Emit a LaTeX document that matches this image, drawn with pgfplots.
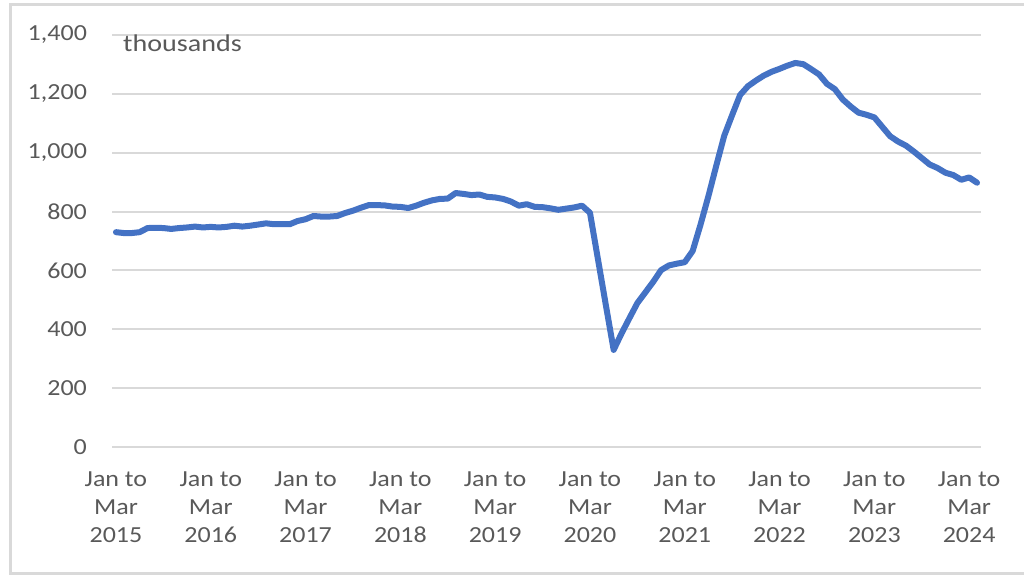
\documentclass[border=0pt]{standalone}
\usepackage{pgfplots}
\pgfplotsset{compat=1.18}
\usepackage{pgfplotstable}
\usepackage{fontspec}
\setmainfont{Carlito}

\definecolor{lineblue}{HTML}{4472C4}
\definecolor{gridgray}{HTML}{D9D9D9}
\definecolor{textgray}{HTML}{595959}

% vacancies, thousands, rolling three-month periods from Jan to Mar 2015
\pgfplotstableread{
idx val
0 730
1 727
2 727
3 730
4 744
5 745
6 744
7 741
8 744
9 746
10 749
11 746
12 748
13 746
14 748
15 752
16 749
17 752
18 756
19 760
20 757
21 757
22 757
23 768
24 774
25 785
26 783
27 783
28 785
29 795
30 803
31 813
32 822
33 822
34 821
35 817
36 816
37 812
38 820
39 830
40 838
41 843
42 844
43 863
44 860
45 856
46 858
47 850
48 848
49 843
50 834
51 820
52 825
53 816
54 815
55 811
56 806
57 810
58 814
59 820
60 796
61 640
62 484
63 330
64 386
65 438
66 489
67 525
68 561
69 601
70 617
71 623
72 628
73 666
74 756
75 853
76 957
77 1058
78 1128
79 1196
80 1226
81 1245
82 1262
83 1275
84 1285
85 1296
86 1305
87 1301
88 1284
89 1266
90 1234
91 1216
92 1181
93 1157
94 1136
95 1129
96 1120
97 1088
98 1056
99 1038
100 1024
101 1004
102 982
103 960
104 948
105 932
106 924
107 908
108 916
109 898
}\vacancies

\begin{document}
\begin{tikzpicture}
\path[use as bounding box] (0pt,0pt) rectangle (1024pt,574pt);
\draw[gridgray, line width=3pt] (1024pt,569pt) -- (10pt,569pt) -- (10pt,1pt) -- (1024pt,1pt);

\begin{axis}[
    at={(112pt,127pt)}, anchor=south west,
    scale only axis,
    width=869pt, height=412pt,
    xmin=-0.5, xmax=109.5,
    ymin=0, ymax=1400,
    ytick={0,200,...,1400},
    xtick={0,12,...,108},
    xticklabels={Jan to\\Mar\\2015,Jan to\\Mar\\2016,Jan to\\Mar\\2017,Jan to\\Mar\\2018,Jan to\\Mar\\2019,Jan to\\Mar\\2020,Jan to\\Mar\\2021,Jan to\\Mar\\2022,Jan to\\Mar\\2023,Jan to\\Mar\\2024},
    axis line style={draw=none},
    major tick length=0pt,
    ymajorgrids=true,
    grid style={gridgray, line width=2pt},
    tick label style={text=textgray, font=\fontsize{23}{28}\selectfont, xscale=1.13},
    yticklabel style={anchor=east, inner sep=0pt, xshift=-22pt},
    xticklabel style={align=center, anchor=north, inner sep=0pt, yshift=-25pt},
    /pgf/number format/.cd, 1000 sep={,}, assume math mode=true,
]
\addplot[lineblue, line width=6pt, line join=round, line cap=round] table[x=idx, y=val] {\vacancies};
\end{axis}

\node[anchor=base west, inner sep=0pt, text=textgray, font=\fontsize{24}{28}\selectfont, xscale=1.17] at (123pt,522pt) {thousands};
\end{tikzpicture}
\end{document}
